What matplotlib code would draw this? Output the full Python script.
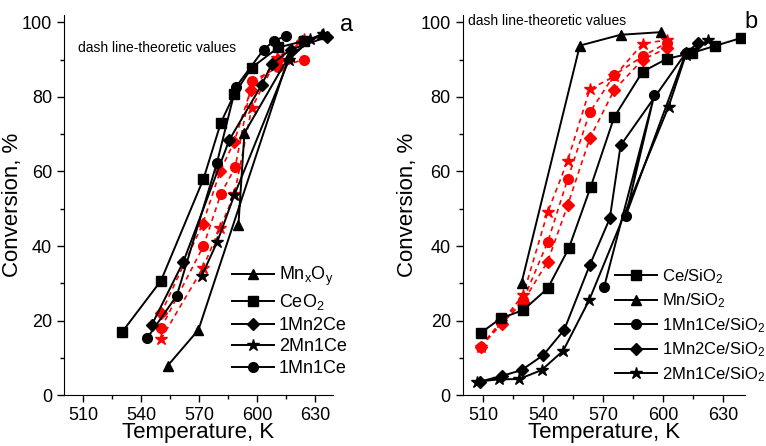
import numpy as np
import matplotlib
matplotlib.use("Agg")
import matplotlib.pyplot as plt
from matplotlib.ticker import MultipleLocator

plt.rcParams['font.family'] = ['Liberation Sans', 'DejaVu Sans']
plt.rcParams['mathtext.default'] = 'regular'

# ---- panel a (bulk oxides) ----
mnxoy_t = [553.7, 569.6, 616.5, 633.5, np.nan, 590.3, 593.4, 616.5]
mnxoy_c = [7.9, 17.5, 91.0, 97.0, np.nan, 45.7, 70.3, 91.0]
ceo2_t = [530.2, 550.2, 572.2, 581.2, 588.2, 597.2, 611.0, 624.0]
ceo2_c = [17.0, 30.7, 58.0, 73.1, 80.8, 87.9, 93.3, 95.0]
mn2ce_t = [545.4, 561.8, 585.6, 602.4, 607.6, 617.4, 636.1]
mn2ce_c = [18.8, 35.8, 68.5, 83.3, 88.9, 92.7, 96.1]
mn1ce2_t = [571.3, 579.4, 588.2, 616.5, 627.5, 634.0]
mn1ce2_c = [32.0, 41.2, 53.7, 90.0, 95.5, 97.0]
mn1ce_t = [543.2, 558.4, 579.1, 588.9, 603.3, 608.8, 615.0]
mn1ce_c = [15.4, 26.7, 62.2, 82.6, 92.7, 95.1, 96.4]

# theoretic (red dashed)
th_mn2ce_t = [550.2, 571.8, 580.8, 588.1, 596.7, 611.0, 623.1]
th_mn2ce_c = [21.9, 45.9, 60.0, 68.0, 81.9, 90.0, 94.9]
th_mn1ce_t = [550.2, 572.2, 581.2, 588.6, 597.2, 611.0, 624.0]
th_mn1ce_c = [17.9, 40.0, 54.0, 61.1, 84.2, 88.0, 90.0]
th_2mn1ce_t = [550.2, 571.8, 580.8, 588.2, 597.2, 610.2, 624.0]
th_2mn1ce_c = [15.0, 34.0, 44.9, 53.9, 77.0, 90.4, 95.6]

# ---- panel b (SiO2 supported) ----
ce_si_t = [508.8, 518.8, 530.0, 542.2, 552.8, 563.7, 575.5, 589.7, 601.7, 614.2, 625.8, 638.8]
ce_si_c = [16.7, 20.6, 22.8, 28.6, 39.4, 55.8, 74.6, 86.8, 90.2, 91.8, 93.7, 95.8]
mn_si_t = [529.2, 558.3, 578.7, 598.7]
mn_si_c = [30.2, 93.8, 96.7, 97.4]
mn1ce1_si_t = [570.5, 595.5, 581.3, 611.3]
mn1ce1_si_c = [29.1, 80.4, 48.1, 91.8]
mn1ce2_si_t = [508.3, 519.2, 529.2, 540.0, 550.5, 563.3, 573.3, 578.7, 611.3, 617.5]
mn1ce2_si_c = [3.6, 5.1, 6.7, 10.7, 17.5, 34.9, 47.4, 67.0, 91.8, 94.5]
mn2ce1_si_t = [506.7, 518.0, 528.0, 539.2, 550.0, 563.0, 602.7, 611.3, 622.5]
mn2ce1_si_c = [3.6, 4.2, 4.3, 6.7, 11.9, 25.5, 77.4, 91.3, 95.3]

th_b_circ_t = [508.8, 518.8, 530.0, 542.2, 552.2, 563.3, 575.5, 589.7, 601.7]
th_b_circ_c = [13.0, 19.7, 25.5, 41.0, 57.9, 75.9, 85.9, 90.9, 94.5]
th_b_diam_t = [508.8, 519.2, 530.0, 542.2, 552.2, 563.3, 575.5, 589.7, 601.7]
th_b_diam_c = [13.0, 19.1, 25.1, 35.8, 50.9, 68.9, 81.9, 90.0, 93.1]
th_b_star_t = [508.8, 519.0, 530.0, 542.2, 552.2, 563.3, 575.5, 589.7, 601.7]
th_b_star_c = [13.0, 19.5, 26.9, 49.0, 62.9, 82.1, 85.5, 94.3, 95.3]

RED = '#ff0000'
solid = dict(color='black', lw=1.4, ms=7)
dash = dict(color=RED, lw=1.2, ms=7, ls=(0, (3, 2.5)))

fig = plt.figure(figsize=(7.66, 4.46), dpi=100)
ax1 = fig.add_axes([0.0836, 0.1143, 0.3512, 0.852])
ax2 = fig.add_axes([0.604, 0.1143, 0.3685, 0.852])

# panel a
ax1.plot(th_2mn1ce_t, th_2mn1ce_c, marker='*', **{**dash, 'ms': 9})
ax1.plot(th_mn1ce_t, th_mn1ce_c, marker='o', **dash)
ax1.plot(th_mn2ce_t, th_mn2ce_c, marker='D', **{**dash, 'ms': 6})
ax1.plot(mnxoy_t, mnxoy_c, marker='^', label='Mn$_x$O$_y$', **solid)
ax1.plot(ceo2_t, ceo2_c, marker='s', label='CeO$_2$', **solid)
ax1.plot(mn2ce_t, mn2ce_c, marker='D', label='1Mn2Ce', **{**solid, 'ms': 6})
ax1.plot(mn1ce2_t, mn1ce2_c, marker='*', label='2Mn1Ce', **{**solid, 'ms': 9})
ax1.plot(mn1ce_t, mn1ce_c, marker='o', label='1Mn1Ce', **solid)
ax1.set_xlim(500, 639.3)
ax1.text(0.052, 93.2, 'dash line-theoretic values', transform=ax1.get_yaxis_transform(),
         fontsize=10, va='center')

# panel b
ax2.plot(th_b_star_t, th_b_star_c, marker='*', **{**dash, 'ms': 9})
ax2.plot(th_b_circ_t, th_b_circ_c, marker='o', **dash)
ax2.plot(th_b_diam_t, th_b_diam_c, marker='D', **{**dash, 'ms': 6})
ax2.plot(ce_si_t, ce_si_c, marker='s', label='Ce/SiO$_2$', **solid)
ax2.plot(mn_si_t, mn_si_c, marker='^', label='Mn/SiO$_2$', **solid)
ax2.plot(mn1ce1_si_t, mn1ce1_si_c, marker='o', label='1Mn1Ce/SiO$_2$', **solid)
ax2.plot(mn1ce2_si_t, mn1ce2_si_c, marker='D', label='1Mn2Ce/SiO$_2$', **{**solid, 'ms': 6})
ax2.plot(mn2ce1_si_t, mn2ce1_si_c, marker='*', label='2Mn1Ce/SiO$_2$', **{**solid, 'ms': 9})
ax2.set_xlim(499.7, 640.9)
ax2.text(502.6, 100.4, 'dash line-theoretic values', fontsize=10, va='center')

for ax in (ax1, ax2):
    ax.set_ylim(0, 102)
    ax.set_xticks([510, 540, 570, 600, 630])
    ax.set_yticks([0, 20, 40, 60, 80, 100])
    ax.xaxis.set_minor_locator(MultipleLocator(15))
    ax.yaxis.set_minor_locator(MultipleLocator(10))
    ax.spines['top'].set_visible(False)
    ax.spines['right'].set_visible(False)
    ax.tick_params(which='major', direction='out', length=5, width=1, labelsize=13)
    ax.tick_params(which='minor', direction='out', length=3, width=1)
    ax.set_xlabel('Temperature, K', fontsize=16)
    ax.set_ylabel('Conversion, %', fontsize=16)
    ax.xaxis.set_label_coords(0.5, -0.072)

ax1.yaxis.set_label_coords(-0.153, 0.5)
ax2.yaxis.set_label_coords(-0.158, 0.5)

ax1.legend(loc='lower left', frameon=False, fontsize=13, handlelength=2.3,
           handletextpad=0.3, labelspacing=0.25, borderpad=0, borderaxespad=0,
           bbox_to_anchor=(232 / 766, 1 - 377 / 446), bbox_transform=fig.transFigure)
ax2.legend(loc='lower left', frameon=False, fontsize=12, handlelength=2.5,
           handletextpad=0.3, labelspacing=0.35, borderpad=0, borderaxespad=0,
           bbox_to_anchor=(615 / 766, 1 - 384 / 446), bbox_transform=fig.transFigure)

fig.text(347 / 766, 1 - 25 / 446, 'a', fontsize=17, ha='center', va='center')
fig.text(751 / 766, 1 - 22 / 446, 'b', fontsize=17, ha='center', va='center')

fig.savefig('out.png', dpi=100)
